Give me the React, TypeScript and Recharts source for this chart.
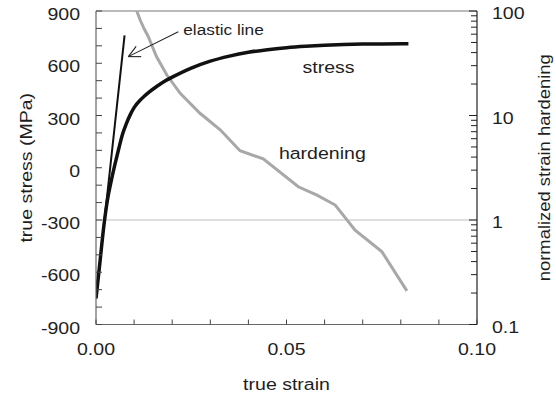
import React from 'react';
import { LineChart, Line, XAxis, YAxis, ReferenceLine, ReferenceDot, Label } from 'recharts';

// ---------- data ----------
const stressStrain = [0, 0.001, 0.002, 0.003, 0.004, 0.005, 0.006, 0.007, 0.008, 0.009, 0.010, 0.012, 0.014, 0.016, 0.018, 0.020, 0.025, 0.030, 0.035, 0.040, 0.045, 0.050, 0.055, 0.060, 0.065, 0.070, 0.075, 0.082];
const stressValues = [-750, -550, -345, -185, -75, 22, 112, 195, 255, 305, 345, 397, 436, 468, 497, 520, 572, 612, 641, 663, 678, 689, 697, 703, 707, 710, 711, 712];

const elasticStrain = [0, 0.0075];
const elasticValues = [-750, 760];

const hardStrain = [0.0107, 0.0116, 0.0126, 0.0137, 0.0159, 0.0186, 0.0221, 0.0273, 0.0326, 0.0378, 0.0439, 0.0531, 0.058, 0.0628, 0.068, 0.075, 0.0816];
const hardValues = [100, 82, 68, 57, 36.5, 24.4, 16.3, 10.5, 7.3, 4.6, 3.84, 2.08, 1.73, 1.39, 0.80, 0.50, 0.21];

const xTicks = [0, 0.01, 0.02, 0.03, 0.04, 0.05, 0.06, 0.07, 0.08, 0.09, 0.1];
const xLabelTicks = [0, 0.05, 0.1];
const leftTicks = [-900, -800, -700, -600, -500, -400, -300, -200, -100, 0, 100, 200, 300, 400, 500, 600, 700, 800, 900];
const leftLabelTicks = [-900, -600, -300, 0, 300, 600, 900];
const rightTicks = [0.1, 0.2, 0.3, 0.4, 0.5, 0.6, 0.7, 0.8, 0.9, 1, 2, 3, 4, 5, 6, 7, 8, 9, 10, 20, 30, 40, 50, 60, 70, 80, 90, 100];
const rightLabelTicks = [0.1, 1, 10, 100];

const stressData = stressStrain.map((x, i) => ({ x, y: stressValues[i] }));
const elasticData = elasticStrain.map((x, i) => ({ x, y: elasticValues[i] }));
const hardData = hardStrain.map((x, i) => ({ x, h: hardValues[i] }));

// ---------- styling ----------
const FONT = "'Liberation Sans', Arial, Helvetica, sans-serif";
const SX = 1.15;
const TXT = '#1e1e1e';

const T = ({ x, y, size, anchor = 'start', rot = 0, children }: any) => (
  <text
    transform={`translate(${x},${y}) rotate(${rot}) scale(${SX},1)`}
    fontSize={size}
    textAnchor={anchor}
    fontFamily={FONT}
    fill={TXT}
  >
    {children}
  </text>
);

const near = (a: number, list: number[]) => list.some((v) => Math.abs(v - a) < 1e-9);

const XTick = (props: any) => {
  const { x, y, payload } = props;
  const v = payload.value;
  return (
    <g>
      <line x1={x} y1={y} x2={x} y2={y - 5} stroke="#444" strokeWidth={1} />
      {near(v, xLabelTicks) && (
        <T x={x} y={y + 30} size={17} anchor="middle">{v.toFixed(2)}</T>
      )}
    </g>
  );
};

const LeftTick = (props: any) => {
  const { x, y, payload } = props;
  const v = payload.value;
  return (
    <g>
      <line x1={x} y1={y} x2={x + 6} y2={y} stroke="#444" strokeWidth={1} />
      {near(v, leftLabelTicks) && (
        <T x={x - 16} y={y + 9} size={17} anchor="end">{String(v)}</T>
      )}
    </g>
  );
};

const RightTick = (props: any) => {
  const { x, y, payload } = props;
  const v = payload.value;
  const major = near(v, rightLabelTicks);
  return (
    <g>
      <line x1={x} y1={y} x2={x - (major ? 8 : 6)} y2={y} stroke="#222" strokeWidth={1} />
      {major && (
        <T x={x + 15} y={y + 8} size={17} anchor="start">{String(v)}</T>
      )}
    </g>
  );
};

const textShape = (label: string, size: number) => (p: any) => (
  <T x={p.cx} y={p.cy} size={size} anchor="start">{label}</T>
);

export default function App() {
  return (
    <div style={{ position: 'absolute', left: 0, top: 0, background: '#fff' }}>
      <LineChart
        width={556}
        height={397}
        margin={{ top: 11, right: 0, bottom: 0, left: 0 }}
      >
        <XAxis
          dataKey="x"
          type="number"
          domain={[0, 0.1]}
          ticks={xTicks}
          interval={0}
          tick={<XTick />}
          tickLine={false}
          tickSize={0}
          tickMargin={0}
          axisLine={{ stroke: '#666', strokeWidth: 1.2 }}
          height={72.5}
          allowDataOverflow
        >
          <Label
            content={(p: any) => {
              const vb = p.viewBox;
              return <T x={vb.x + vb.width / 2} y={vb.y + 65.5} size={17} anchor="middle">true strain</T>;
            }}
          />
        </XAxis>
        <YAxis
          yAxisId="left"
          orientation="left"
          type="number"
          domain={[-900, 900]}
          ticks={leftTicks}
          interval={0}
          tick={<LeftTick />}
          tickLine={false}
          tickSize={0}
          tickMargin={0}
          axisLine={{ stroke: '#666', strokeWidth: 1.2 }}
          width={96}
          allowDataOverflow
        >
          <Label
            content={(p: any) => {
              const vb = p.viewBox;
              return <T x={vb.x + 32} y={vb.y + vb.height / 2} size={17} anchor="middle" rot={-90}>true stress (MPa)</T>;
            }}
          />
        </YAxis>
        <YAxis
          yAxisId="right"
          orientation="right"
          type="number"
          scale="log"
          domain={[0.1, 100]}
          ticks={rightTicks}
          interval={0}
          tick={<RightTick />}
          tickLine={false}
          tickSize={0}
          tickMargin={0}
          axisLine={{ stroke: '#222', strokeWidth: 1.2 }}
          width={79}
          allowDataOverflow
        >
          <Label
            content={(p: any) => {
              const vb = p.viewBox;
              return <T x={vb.x + 73} y={vb.y + vb.height / 2} size={16} anchor="middle" rot={-90}>normalized strain hardening</T>;
            }}
          />
        </YAxis>

        <ReferenceLine yAxisId="left" y={900} stroke="#777" strokeWidth={1.2} ifOverflow="visible" />
        <ReferenceLine yAxisId="right" y={1} stroke="#bdbdbd" strokeWidth={1.2} />

        <Line
          data={hardData}
          dataKey="h"
          yAxisId="right"
          type="linear"
          stroke="#a8a8a8"
          strokeWidth={3}
          dot={false}
          isAnimationActive={false}
        />
        <Line
          data={elasticData}
          dataKey="y"
          yAxisId="left"
          type="linear"
          stroke="#111"
          strokeWidth={2}
          dot={false}
          isAnimationActive={false}
        />
        <Line
          data={stressData}
          dataKey="y"
          yAxisId="left"
          type="monotone"
          stroke="#111"
          strokeWidth={3.5}
          dot={false}
          isAnimationActive={false}
        />

        <ReferenceLine yAxisId="left" segment={[{ x: 0.0216, y: 781 }, { x: 0.00848, y: 638 }]} stroke="#222" strokeWidth={1.1} ifOverflow="visible" />
        <ReferenceLine yAxisId="left" segment={[{ x: 0.00848, y: 638 }, { x: 0.01186, y: 638 }]} stroke="#222" strokeWidth={1.1} ifOverflow="visible" />
        <ReferenceLine yAxisId="left" segment={[{ x: 0.00848, y: 638 }, { x: 0.01054, y: 697 }]} stroke="#222" strokeWidth={1.1} ifOverflow="visible" />

        <ReferenceDot yAxisId="left" x={0.0229} y={762} r={0} ifOverflow="visible" shape={textShape('elastic line', 15)} />
        <ReferenceDot yAxisId="left" x={0.0542} y={544} r={0} ifOverflow="visible" shape={textShape('stress', 17)} />
        <ReferenceDot yAxisId="left" x={0.048} y={50} r={0} ifOverflow="visible" shape={textShape('hardening', 17)} />
      </LineChart>
    </div>
  );
}
